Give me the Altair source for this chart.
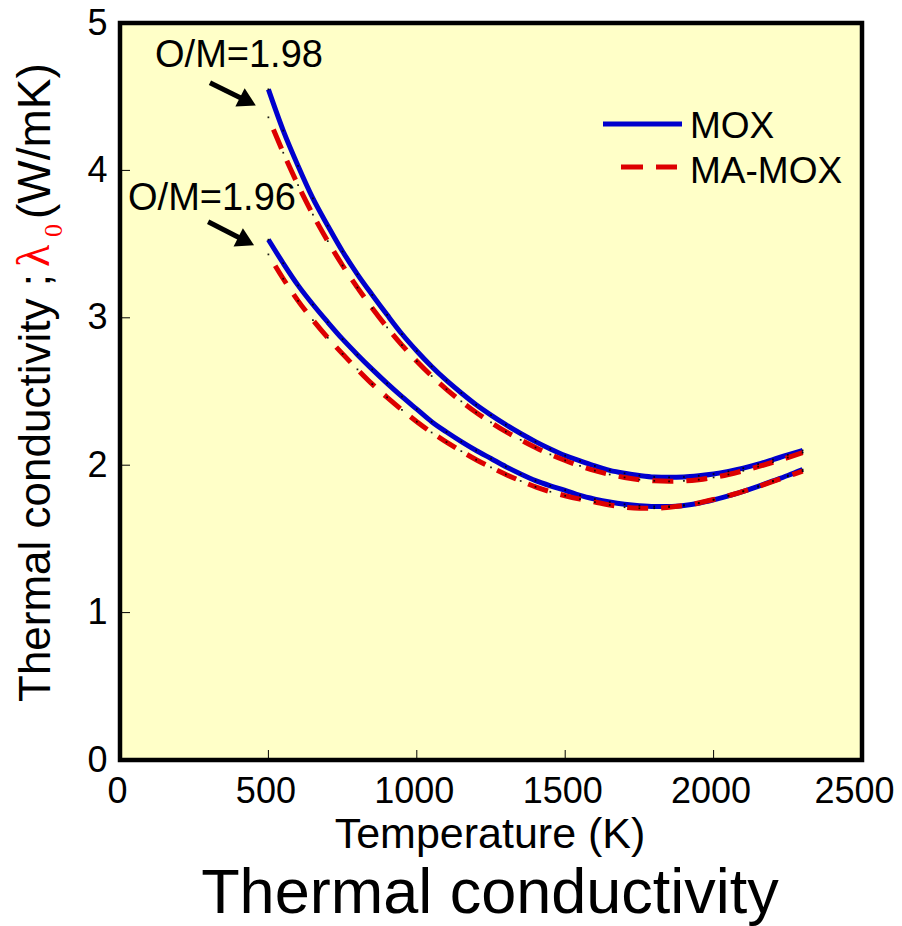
import altair as alt
import pandas as pd

# Thermal conductivity lambda_0 (W/mK) of MOX and MA-MOX fuels versus temperature
temperature_K = list(range(500, 2301, 50))

mox_om198 = [4.55, 4.27, 4.03, 3.81, 3.625, 3.45, 3.295, 3.155, 3.02, 2.89,
             2.775, 2.67, 2.575, 2.49, 2.41, 2.34, 2.275, 2.215, 2.16, 2.11,
             2.065, 2.03, 1.995, 1.965, 1.945, 1.93, 1.92, 1.918, 1.92, 1.928,
             1.94, 1.958, 1.98, 2.007, 2.038, 2.07, 2.10]
mox_om196 = [3.53, 3.37, 3.22, 3.09, 2.97, 2.855, 2.75, 2.65, 2.555, 2.465,
             2.38, 2.295, 2.225, 2.16, 2.10, 2.045, 1.99, 1.94, 1.895, 1.86,
             1.83, 1.795, 1.77, 1.75, 1.735, 1.725, 1.72, 1.72, 1.727, 1.742,
             1.765, 1.792, 1.823, 1.857, 1.893, 1.93, 1.97]
mamox_om198 = [4.36, 4.12, 3.90, 3.70, 3.52, 3.355, 3.205, 3.065, 2.935, 2.815,
               2.705, 2.605, 2.515, 2.433, 2.358, 2.29, 2.228, 2.172, 2.12, 2.073,
               2.032, 1.995, 1.963, 1.937, 1.917, 1.902, 1.894, 1.891, 1.893, 1.902,
               1.917, 1.937, 1.962, 1.99, 2.02, 2.052, 2.085]
mamox_om196 = [3.43, 3.265, 3.115, 2.985, 2.865, 2.755, 2.65, 2.55, 2.46, 2.375,
               2.295, 2.222, 2.157, 2.095, 2.037, 1.985, 1.937, 1.893, 1.853, 1.82,
               1.793, 1.77, 1.75, 1.73, 1.715, 1.708, 1.708, 1.715, 1.727, 1.744,
               1.767, 1.793, 1.823, 1.855, 1.89, 1.925, 1.96]

x_ticks = [0, 500, 1000, 1500, 2000, 2500]
y_ticks = [0, 1, 2, 3, 4, 5]

# O/M annotations and their arrows (temperature, lambda)
om_labels = ["O/M=1.98", "O/M=1.96"]
om_label_T = [118, 27]
om_label_lam = [4.70, 3.73]
arrow_T_start = [303, 297]
arrow_lam_start = [4.595, 3.651]
arrow_T_head = [431, 425]
arrow_lam_head = [4.468, 3.519]

W, H = 742, 737
FONT = "Liberation Sans"
BLUE = "#0000CD"
RED = "#DD0000"
BG = "#FFFFC8"

rows = []
for fuel, om, vals in [("MOX", "1.98", mox_om198), ("MOX", "1.96", mox_om196),
                       ("MA-MOX", "1.98", mamox_om198), ("MA-MOX", "1.96", mamox_om196)]:
    for t, v in zip(temperature_K, vals):
        rows.append({"T": t, "lam": v, "fuel": fuel, "om": om})
df = pd.DataFrame(rows)

x_scale = alt.Scale(domain=[0, 2500], nice=False, zero=False)
y_scale = alt.Scale(domain=[0, 5], nice=False, zero=False)

axis_style = dict(title=None, grid=False, domain=False, ticks=False, labelFont=FONT,
                  labelFontSize=36, labelColor="black", labelFlush=False,
                  labelOverlap=False, format="d")
x_axis = alt.Axis(values=x_ticks, labelPadding=14,
                  labelOffset={"condition": {"test": "datum.value == 2500", "value": -8},
                               "value": -3},
                  **axis_style)
y_axis = alt.Axis(values=y_ticks, labelPadding=13, **axis_style)


def X(field):
    return alt.X(field, scale=x_scale, axis=x_axis)


def Y(field):
    return alt.Y(field, scale=y_scale, axis=y_axis)


base = alt.Chart(df)

mox_lines = base.transform_filter("datum.fuel === 'MOX'").mark_line(
    color=BLUE, strokeWidth=5, interpolate="monotone"
).encode(x=X("T:Q"), y=Y("lam:Q"), detail="om:N")

mamox_lines = base.transform_filter("datum.fuel === 'MA-MOX'").mark_line(
    color=RED, strokeWidth=5, interpolate="monotone",
    strokeDash=[21, 13], strokeDashOffset=21
).encode(x=X("T:Q"), y=Y("lam:Q"), detail="om:N")

dots = base.mark_square(size=3, color="black", opacity=0.9).encode(
    x=X("T:Q"), y=Y("lam:Q"))

# inward tick marks
x_tick_rules = alt.Chart(pd.DataFrame({"T": x_ticks})).mark_rule(
    color="black", strokeWidth=1
).encode(x=X("T:Q"), y=alt.value(H), y2=alt.value(H - 10))

y_tick_rules = alt.Chart(pd.DataFrame({"lam": y_ticks})).mark_rule(
    color="black", strokeWidth=1
).encode(y=Y("lam:Q"), x=alt.value(0), x2=alt.value(10))

arrows_df = pd.DataFrame({"T0": arrow_T_start, "lam0": arrow_lam_start,
                          "T1": arrow_T_head, "lam1": arrow_lam_head})
arrow_shafts = alt.Chart(arrows_df).mark_rule(color="black", strokeWidth=5).encode(
    x=X("T0:Q"), y=Y("lam0:Q"), x2="T1:Q", y2="lam1:Q")
arrow_heads = alt.Chart(arrows_df).mark_point(
    shape="triangle-right", filled=True, color="black", opacity=1, size=420, angle=27
).encode(x=X("T1:Q"), y=Y("lam1:Q"))

om_df = pd.DataFrame({"label": om_labels, "T": om_label_T, "lam": om_label_lam})
om_text = alt.Chart(om_df).mark_text(
    font=FONT, fontSize=38, color="black", align="left", baseline="alphabetic"
).encode(x=X("T:Q"), y=Y("lam:Q"), text="label:N")


def text_at(s, x, y, size, color="black", angle=None, align="left", font=FONT):
    kw = dict(text=s, fontSize=size, font=font, color=color, align=align,
              baseline="alphabetic")
    if angle is not None:
        kw["angle"] = angle
    return alt.Chart(alt.Data(values=[{}])).mark_text(**kw).encode(
        x=alt.value(x), y=alt.value(y))


def legend_line(x0, x1, y, color, dash=None):
    kw = dict(color=color, strokeWidth=5)
    if dash is not None:
        kw["strokeDash"] = dash
    return alt.Chart(alt.Data(values=[{}])).mark_rule(**kw).encode(
        x=alt.value(x0), x2=alt.value(x1), y=alt.value(y))


texts = [
    # y-axis title: "Thermal conductivity ;λ0(W/mK)" with λ0 in red
    text_at("Thermal conductivity ;", -70, 679, 44, angle=270),
    text_at("λ", -71, 244, 46, color="#FF0000", angle=270, font="Liberation Serif"),
    text_at("0", -58, 214, 26, color="#FF0000", angle=270, font="Liberation Serif"),
    text_at("(W/mK)", -70, 196, 46, angle=270),
    # x-axis title and caption
    text_at("Temperature (K)", 370, 825, 43, align="center"),
    text_at("Thermal conductivity", 370, 890, 63, align="center"),
    # legend
    text_at("MOX", 570, 115, 37),
    text_at("MA-MOX", 570, 160, 37),
]

legend = [
    legend_line(483, 562, 101, BLUE),
    legend_line(501, 557, 144, RED, dash=[22, 13]),
]

chart = alt.layer(
    mox_lines, mamox_lines, dots, x_tick_rules, y_tick_rules,
    arrow_shafts, arrow_heads, om_text, *legend, *texts
).properties(
    width=W, height=H,
    autosize=alt.AutoSizeParams(type="none"),
    padding={"left": 120, "top": 23, "right": 40, "bottom": 166},
).configure(background="white").configure_view(
    stroke="black", strokeWidth=4.5, fill=BG
)

chart.save("out.html", embed_options={"renderer": "svg", "actions": False})
